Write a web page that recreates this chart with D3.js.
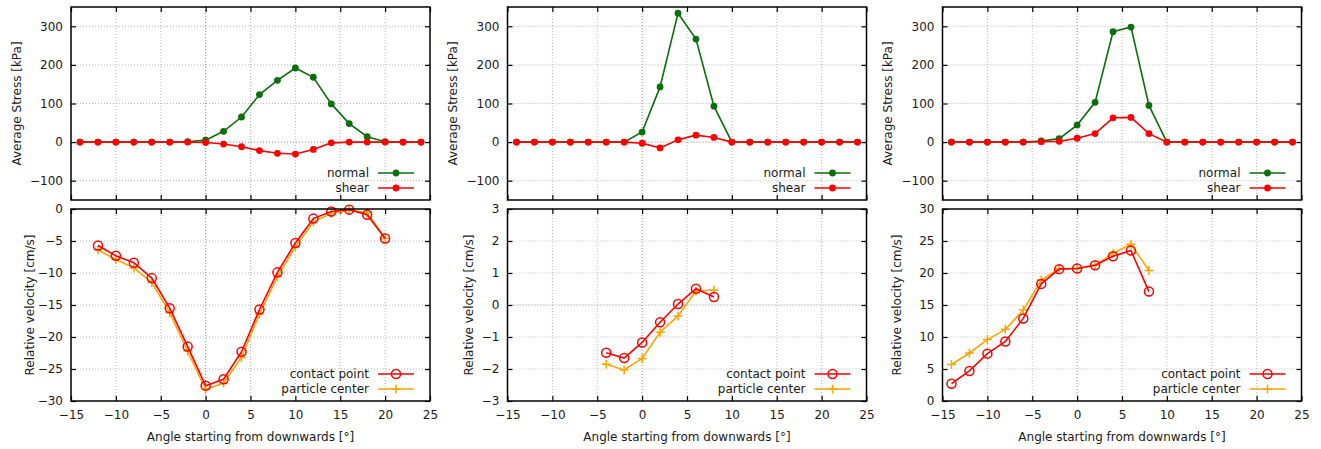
<!DOCTYPE html>
<html>
<head>
<meta charset="utf-8">
<script src="https://cdn.jsdelivr.net/npm/d3@7"></script>
<style>
html,body{margin:0;padding:0;background:#fff;}
svg{display:block;}
text{font-family:"DejaVu Sans",sans-serif;fill:#1a1a1a;}
</style>
</head>
<body>
<svg id="chart" width="1321" height="449"></svg>
<script>
// ---------------- data ----------------
const stressAngles = [-14,-12,-10,-8,-6,-4,-2,0,2,4,6,8,10,12,14,16,18,20,22,24];

const normal1 = [0,0,0,0,0,0,1,5,28,65,123,160,192,168,99,48,14,1,0,0];
const shear1  = [0,0,0,0,0,0,0,-1,-5,-12,-22,-29,-31,-19,-2,0,0,0,0,0];

const normal2 = [0,0,0,0,0,0,0,26,143,334,267,93,0,0,0,0,0,0,0,0];
const shear2  = [0,0,0,0,0,0,0,-3,-15,6,18,12,0,0,0,0,0,0,0,0];

const normal3 = [0,0,0,0,0,3,9,44,103,286,298,95,0,0,0,0,0,0,0,0];
const shear3  = [0,0,0,0,0,1,2,10,22,63,64,22,0,0,0,0,0,0,0,0];

const velAngles1 = [-12,-10,-8,-6,-4,-2,0,2,4,6,8,10,12,14,16,18,20];
const contact1 = [-5.7,-7.3,-8.4,-10.8,-15.5,-21.5,-27.6,-26.6,-22.3,-15.7,-9.9,-5.3,-1.5,-0.4,-0.1,-0.9,-4.6];
const center1  = [-6.4,-7.9,-9.2,-11.5,-16.2,-22.2,-28.2,-27.2,-23.2,-16.4,-10.6,-5.9,-2.0,-0.7,-0.2,-0.6,-4.6];

const velAngles2 = [-4,-2,0,2,4,6,8];
const contact2 = [-1.49,-1.66,-1.17,-0.54,0.03,0.51,0.25];
const center2  = [-1.85,-2.03,-1.67,-0.85,-0.34,0.44,0.47];

const velAngles3 = [-14,-12,-10,-8,-6,-4,-2,0,2,4,6,8];
const contact3 = [2.7,4.7,7.4,9.3,12.9,18.3,20.6,20.7,21.2,22.6,23.5,17.1];
const center3  = [5.7,7.5,9.6,11.2,14.2,18.9,20.7,20.7,21.2,23.1,24.5,20.4];

const xTicks = [-15,-10,-5,0,5,10,15,20,25];
const stressTicks = [-100,0,100,200,300];
const velTicks1 = [-30,-25,-20,-15,-10,-5,0];
const velTicks2 = [-3,-2,-1,0,1,2,3];
const velTicks3 = [0,5,10,15,20,25,30];

const stressLabel = "Average Stress [kPa]";
const velLabel = "Relative velocity [cm/s]";
const xLabel = "Angle starting from downwards [°]";
const stressSeriesNames = ["normal","shear"];
const velSeriesNames = ["contact point","particle center"];

// ---------------- layout ----------------
const panels = [
  {left:71,  normal:normal1, shear:shear1, va:velAngles1, contact:contact1, center:center1, vdom:[-30,0], vticks:velTicks1, sLabX:17, vLabX:30},
  {left:507.5, normal:normal2, shear:shear2, va:velAngles2, contact:contact2, center:center2, vdom:[-3,3], vticks:velTicks2, sLabX:453, vLabX:469},
  {left:942.5, normal:normal3, shear:shear3, va:velAngles3, contact:contact3, center:center3, vdom:[0,30], vticks:velTicks3, sLabX:888, vLabX:897}
];
const W = 359;
const topY0 = 7, topY1 = 200, botY0 = 209, botY1 = 401;
const GREEN = "#0a6e0a", RED = "#ff0000", ORANGE = "#ffa500";
const FS = 12;

const svg = d3.select("#chart");

function drawFrame(g, x, y, xt, yt, showXLabels, x0, x1, y0, y1) {
  const grid = g.append("g");
  xt.filter(v => v !== x.domain()[0] && v !== x.domain()[1]).forEach(v => {
    grid.append("line").attr("x1", x(v)).attr("x2", x(v)).attr("y1", y0).attr("y2", y1)
      .attr("stroke", v === 0 ? "#888" : "#b8b8b8").attr("stroke-width", 1).attr("stroke-dasharray", "1,2");
  });
  yt.filter(v => v !== y.domain()[0] && v !== y.domain()[1]).forEach(v => {
    grid.append("line").attr("x1", x0).attr("x2", x1).attr("y1", y(v)).attr("y2", y(v))
      .attr("stroke", v === 0 ? "#888" : "#b8b8b8").attr("stroke-width", 1).attr("stroke-dasharray", "1,2");
  });
  const ax = [
    g.append("g").attr("transform", `translate(0,${y1})`).call(d3.axisBottom(x).tickValues(xt).tickSize(-5).tickPadding(9).tickFormat(showXLabels ? d3.format("d") : "")),
    g.append("g").attr("transform", `translate(0,${y0})`).call(d3.axisTop(x).tickValues(xt).tickSize(-5).tickFormat("")),
    g.append("g").attr("transform", `translate(${x0},0)`).call(d3.axisLeft(y).tickValues(yt).tickSize(-5).tickPadding(8).tickFormat(d3.format("d"))),
    g.append("g").attr("transform", `translate(${x1},0)`).call(d3.axisRight(y).tickValues(yt).tickSize(-5).tickFormat(""))
  ];
  ax.forEach(a => {
    a.select(".domain").remove();
    a.selectAll(".tick line").attr("stroke", "#000").attr("stroke-width", 1.2);
    a.selectAll(".tick text").attr("font-size", FS).attr("font-family", "DejaVu Sans").attr("fill", "#1a1a1a");
  });
}

panels.forEach(p => {
  const x0 = p.left, x1 = p.left + W;
  const x = d3.scaleLinear().domain([-15, 25]).range([x0, x1]);
  const ys = d3.scaleLinear().domain([-150, 350]).range([topY1, topY0]);
  const yv = d3.scaleLinear().domain(p.vdom).range([botY1, botY0]);

  // ---------- top: stress ----------
  const gt = svg.append("g");
  drawFrame(gt, x, ys, xTicks, stressTicks, false, x0, x1, topY0, topY1);
  const line = d3.line();
  const series = [
    {vals: p.normal, color: GREEN},
    {vals: p.shear, color: RED}
  ];
  series.forEach(s => {
    const pts = stressAngles.map((a, i) => [x(a), ys(s.vals[i])]);
    gt.append("path").attr("d", line(pts)).attr("fill", "none").attr("stroke", s.color).attr("stroke-width", 1.6);
    gt.selectAll(null).data(pts).enter().append("circle")
      .attr("cx", d => d[0]).attr("cy", d => d[1]).attr("r", 3.4).attr("fill", s.color);
  });
  gt.append("rect").attr("x", x0).attr("y", topY0).attr("width", W).attr("height", topY1 - topY0)
    .attr("fill", "none").attr("stroke", "#000").attr("stroke-width", 1.5);
  series.forEach((s, i) => {
    const ly = 173 + i * 15;
    gt.append("text").attr("x", x1 - 61).attr("y", ly).attr("dy", "0.35em").attr("text-anchor", "end")
      .attr("font-size", FS).text(stressSeriesNames[i]);
    gt.append("line").attr("x1", x1 - 52).attr("x2", x1 - 16).attr("y1", ly).attr("y2", ly)
      .attr("stroke", s.color).attr("stroke-width", 1.6);
    gt.append("circle").attr("cx", x1 - 34).attr("cy", ly).attr("r", 3.4).attr("fill", s.color);
  });
  gt.append("text").attr("transform", `translate(${p.sLabX},${(topY0 + topY1) / 2}) rotate(-90)`)
    .attr("text-anchor", "middle").attr("dy", "0.35em").attr("font-size", FS).text(stressLabel);

  // ---------- bottom: velocity ----------
  const gb = svg.append("g");
  drawFrame(gb, x, yv, xTicks, p.vticks, true, x0, x1, botY0, botY1);
  const cPts = p.va.map((a, i) => [x(a), yv(p.contact[i])]);
  const oPts = p.va.map((a, i) => [x(a), yv(p.center[i])]);
  gb.append("path").attr("d", line(oPts)).attr("fill", "none").attr("stroke", ORANGE).attr("stroke-width", 1.6);
  gb.selectAll(null).data(oPts).enter().append("path")
    .attr("d", d => `M${d[0]-4.5},${d[1]}H${d[0]+4.5}M${d[0]},${d[1]-4.5}V${d[1]+4.5}`)
    .attr("stroke", ORANGE).attr("stroke-width", 1.5);
  gb.append("path").attr("d", line(cPts)).attr("fill", "none").attr("stroke", RED).attr("stroke-width", 1.6);
  gb.selectAll(null).data(cPts).enter().append("circle")
    .attr("cx", d => d[0]).attr("cy", d => d[1]).attr("r", 4.5).attr("fill", "none")
    .attr("stroke", RED).attr("stroke-width", 1.5);
  gb.append("rect").attr("x", x0).attr("y", botY0).attr("width", W).attr("height", botY1 - botY0)
    .attr("fill", "none").attr("stroke", "#000").attr("stroke-width", 1.5);
  [RED, ORANGE].forEach((c, i) => {
    const ly = 374 + i * 15;
    gb.append("text").attr("x", x1 - 61).attr("y", ly).attr("dy", "0.35em").attr("text-anchor", "end")
      .attr("font-size", FS).text(velSeriesNames[i]);
    gb.append("line").attr("x1", x1 - 52).attr("x2", x1 - 16).attr("y1", ly).attr("y2", ly)
      .attr("stroke", c).attr("stroke-width", 1.6);
    const mx = x1 - 34;
    if (i === 0) {
      gb.append("circle").attr("cx", mx).attr("cy", ly).attr("r", 4.5).attr("fill", "none")
        .attr("stroke", c).attr("stroke-width", 1.5);
    } else {
      gb.append("path").attr("d", `M${mx-4.5},${ly}H${mx+4.5}M${mx},${ly-4.5}V${ly+4.5}`)
        .attr("stroke", c).attr("stroke-width", 1.5);
    }
  });
  gb.append("text").attr("transform", `translate(${p.vLabX},${(botY0 + botY1) / 2}) rotate(-90)`)
    .attr("text-anchor", "middle").attr("dy", "0.35em").attr("font-size", FS).text(velLabel);
  gb.append("text").attr("x", (x0 + x1) / 2).attr("y", 437).attr("dy", "0.35em")
    .attr("text-anchor", "middle").attr("font-size", FS).text(xLabel);
});
</script>
</body>
</html>
